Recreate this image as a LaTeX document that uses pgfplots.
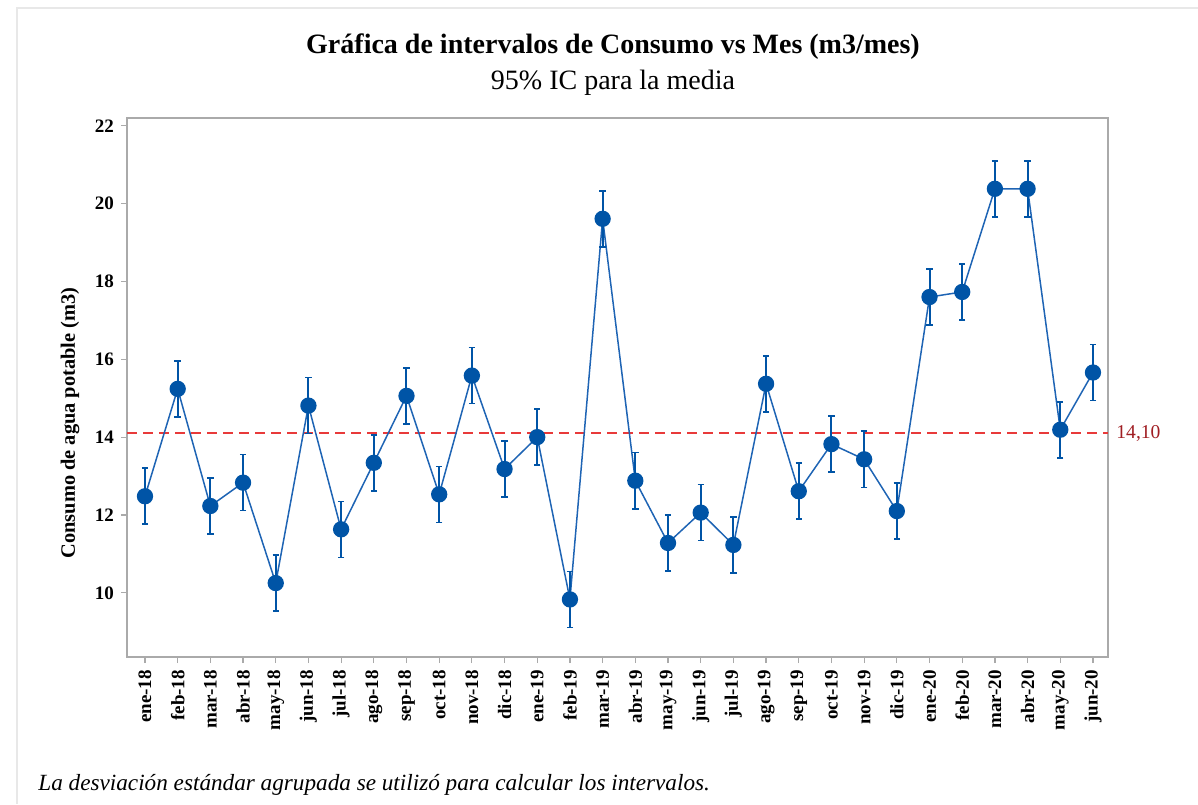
\documentclass[border=0pt]{standalone}
\usepackage{fontspec}
\setmainfont{Liberation Serif}
\usepackage{pgfplots}
\pgfplotsset{compat=1.18}
\definecolor{mblue}{RGB}{0,84,166}
\definecolor{lblue}{RGB}{30,100,180}
\definecolor{mred}{RGB}{232,58,58}
\definecolor{dred}{RGB}{160,30,35}
\definecolor{agray}{RGB}{170,170,170}
\definecolor{fgray}{RGB}{232,232,232}
\begin{document}
\begin{tikzpicture}[x=0.5pt,y=0.5pt]
\path[use as bounding box] (0,0) rectangle (1198,804);
\draw[fgray, line width=0.6pt] (17,0) -- (17,796) -- (1198,796);
\begin{axis}[
  at={(63.5pt,73.5pt)}, anchor=south west,
  scale only axis, width=490.5pt, height=269.5pt,
  xmin=-0.55, xmax=29.46, ymin=8.35, ymax=22.2,
  xtick={0,...,29},
  xticklabels={ene-18,feb-18,mar-18,abr-18,may-18,jun-18,jul-18,ago-18,sep-18,oct-18,nov-18,dic-18,ene-19,feb-19,mar-19,abr-19,may-19,jun-19,jul-19,ago-19,sep-19,oct-19,nov-19,dic-19,ene-20,feb-20,mar-20,abr-20,may-20,jun-20},
  ytick={10,12,...,22},
  axis line style={agray, line width=0.7pt},
  tick style={agray, line width=0.6pt},
  tick align=outside, major tick length=3pt,
  xtick pos=bottom, ytick pos=left,
  x tick label style={rotate=90, anchor=east, font=\fontsize{9.5}{10}\selectfont\bfseries},
  y tick label style={font=\fontsize{9.5}{10}\selectfont\bfseries},
  /pgf/number format/assume math mode=true,
  clip=false,
]
\addplot[mred, line width=0.8pt, dash pattern=on 5pt off 3pt] coordinates {(-0.55,14.10) (29.46,14.10)};
\addplot[lblue, line width=0.75pt, mark=*, mark size=3.7pt, mark options={solid, fill=mblue, draw=mblue},
  error bars/.cd, y dir=both, y explicit,
  error bar style={mblue, line width=1pt},
  error mark options={rotate=90, mblue, mark size=1.6pt, line width=0.8pt}]
table[x=x, y=y, y error=e] {
x y e
0 12.48 0.72
1 15.24 0.72
2 12.23 0.72
3 12.83 0.72
4 10.25 0.72
5 14.81 0.72
6 11.63 0.72
7 13.34 0.72
8 15.06 0.72
9 12.53 0.72
10 15.58 0.72
11 13.18 0.72
12 14.00 0.72
13 9.83 0.72
14 19.61 0.72
15 12.88 0.72
16 11.28 0.72
17 12.06 0.72
18 11.23 0.72
19 15.37 0.72
20 12.61 0.72
21 13.82 0.72
22 13.43 0.72
23 12.10 0.72
24 17.60 0.72
25 17.73 0.72
26 20.38 0.72
27 20.38 0.72
28 14.19 0.72
29 15.66 0.72
};
\node[anchor=west, text=dred, font=\fontsize{9.8}{11}\selectfont, inner sep=0pt] at (axis cs:29.46,14.10) {\hspace{4pt}14,10};
\end{axis}
\node[font=\fontsize{14}{16}\selectfont\bfseries] at (613,757) {Gráfica de intervalos de Consumo vs Mes (m3/mes)};
\node[font=\fontsize{14}{16}\selectfont] at (613,721) {95\% IC para la media};
\node[rotate=90, font=\fontsize{10.2}{12}\selectfont\bfseries] at (70,381) {Consumo de agua potable (m3)};
\node[anchor=west, font=\fontsize{11.6}{13}\selectfont\itshape, inner sep=0pt] at (38,19) {La desviación estándar agrupada se utilizó para calcular los intervalos.};
\end{tikzpicture}
\end{document}
